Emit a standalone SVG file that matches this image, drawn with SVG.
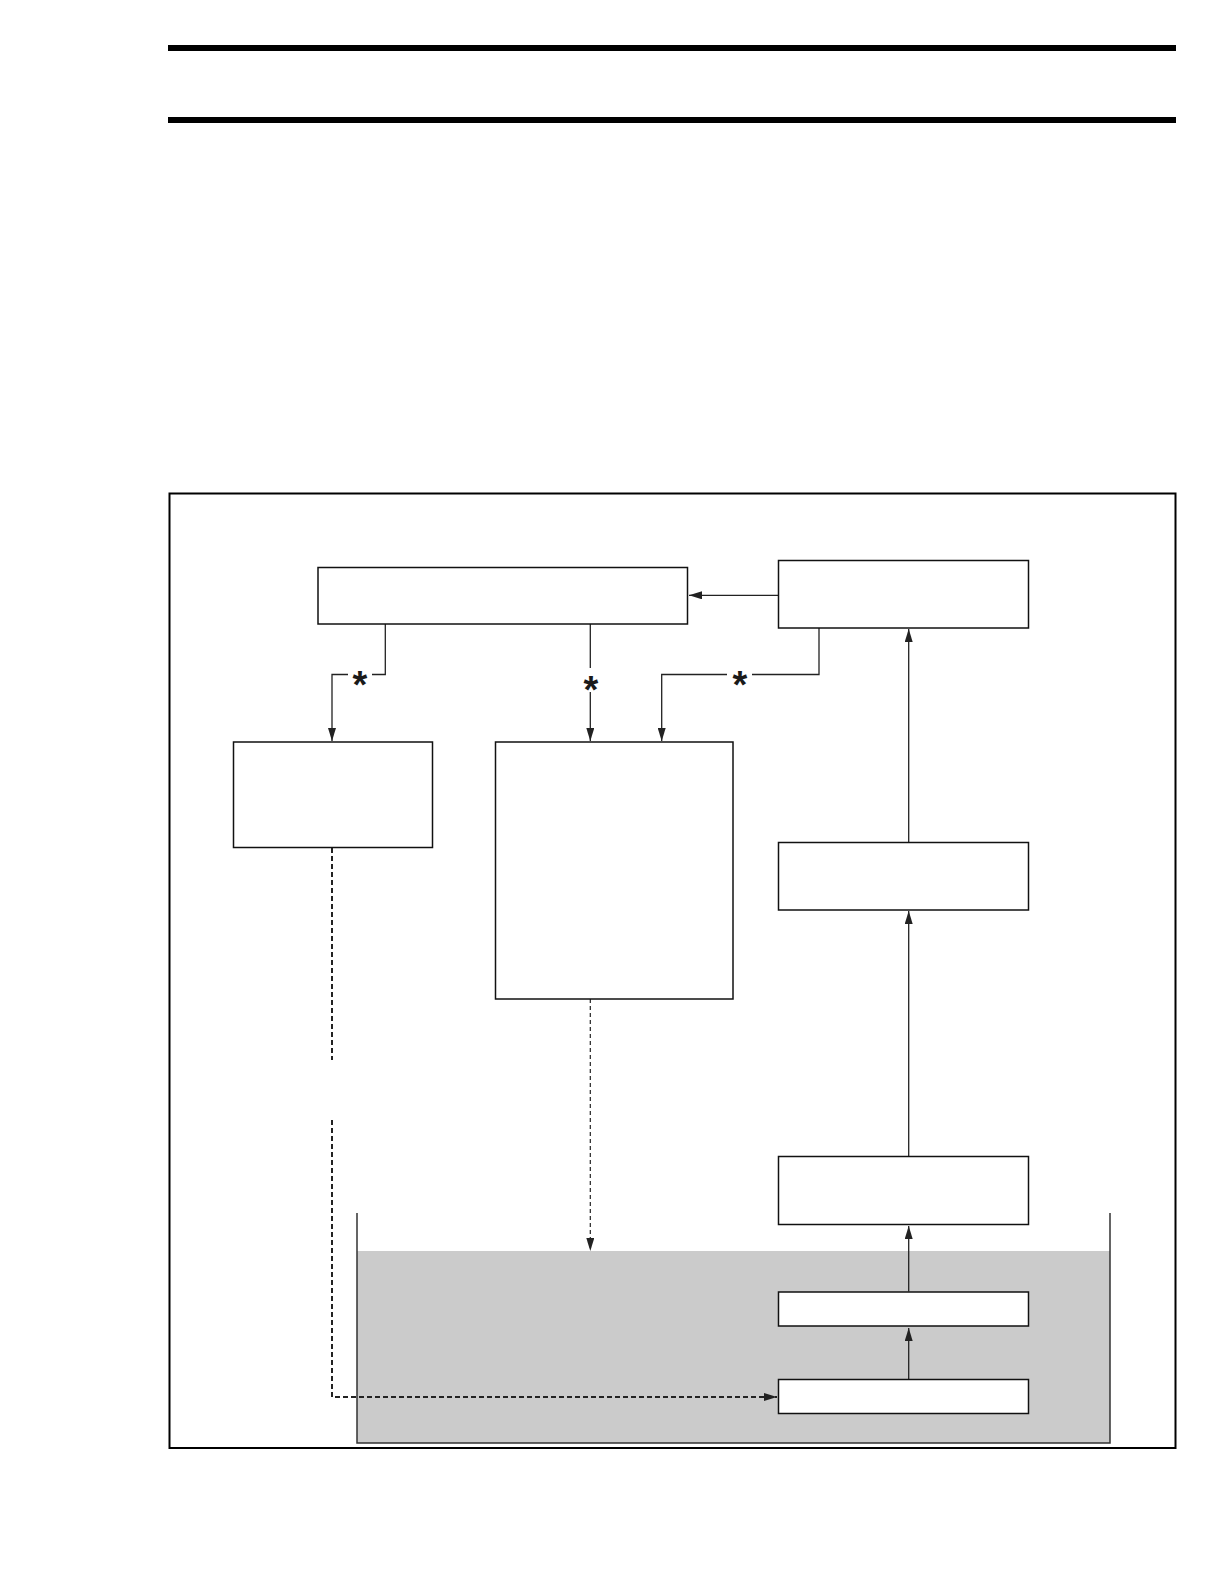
<svg xmlns="http://www.w3.org/2000/svg" width="1224" height="1584" viewBox="0 0 1224 1584">
<style>
.box{fill:#fff;stroke:#111;stroke-width:1.5}
.conn{fill:none;stroke:#222;stroke-width:1.3}
.dash1{fill:none;stroke:#222;stroke-width:2;stroke-dasharray:5 3}
.dash2{fill:none;stroke:#222;stroke-width:1.2;stroke-dasharray:4 3}
.ast{font-family:"Liberation Sans",Arial,sans-serif;font-weight:bold;font-size:38px;fill:#1a1a1a;text-anchor:middle}
</style>
<defs>
<marker id="ah" markerUnits="userSpaceOnUse" viewBox="0 0 13 8" refX="13" refY="4" markerWidth="13" markerHeight="8" orient="auto">
<path d="M0,0 L13,4 L0,8 z" fill="#222"/>
</marker>
</defs>
<g id="header">
<rect x="168" y="45" width="1008" height="6" fill="#000"/>
<rect x="168" y="117" width="1008" height="6" fill="#000"/>
</g>
<rect id="frame" x="169.5" y="493.5" width="1006" height="954.5" fill="none" stroke="#000" stroke-width="2"/>
<g id="tank">
<rect x="357" y="1251" width="753" height="192" fill="#cbcbcb"/>
<path d="M357,1213 V1443 H1110 V1213" fill="none" stroke="#333" stroke-width="1.5"/>
</g>
<g id="connectors">
<path class="conn" d="M778.5,595.3 H689" marker-end="url(#ah)"/>
<path class="conn" d="M385.3,624 V674.5 H372"/>
<path class="conn" d="M348,674.5 H332 V741" stroke-width="1.6" marker-end="url(#ah)"/>
<path class="conn" d="M590.3,624 V668"/>
<path class="conn" d="M590.3,692 V741" marker-end="url(#ah)"/>
<path class="conn" d="M819,628 V674.5 H752"/>
<path class="conn" d="M727,674.5 H661.7 V741" stroke-width="1.6" marker-end="url(#ah)"/>
<path class="conn" d="M908.7,842 V629" marker-end="url(#ah)"/>
<path class="conn" d="M908.7,1156 V911" marker-end="url(#ah)"/>
<path class="conn" d="M908.7,1291.5 V1226" marker-end="url(#ah)"/>
<path class="conn" d="M908.7,1379 V1328" stroke-width="2" marker-end="url(#ah)"/>
<path class="dash1" d="M332,848 V1060"/>
<path class="dash1" d="M332,1120 V1397 H777" marker-end="url(#ah)"/>
<path class="dash2" d="M590.3,999 V1251" marker-end="url(#ah)"/>
<text class="ast" x="359.8" y="697.5">*</text>
<text class="ast" x="590.8" y="703">*</text>
<text class="ast" x="740" y="697.5">*</text>
</g>
<g id="n1"><rect class="box" x="318" y="567.5" width="369.5" height="56.5" stroke-width="2.2" stroke="#000"/></g>
<g id="n2"><rect class="box" x="778.5" y="560.5" width="250" height="67.5" stroke="#000"/></g>
<g id="n3"><rect class="box" x="233.5" y="742" width="199" height="105.5" stroke="#333" stroke-width="1.4"/></g>
<g id="n4"><rect class="box" x="495.5" y="742" width="237.5" height="257" stroke="#333" stroke-width="1.4"/></g>
<g id="n5"><rect class="box" x="778.5" y="842.5" width="250" height="67.5" stroke="#000"/></g>
<g id="n6"><rect class="box" x="778.5" y="1156.5" width="250" height="68" stroke="#000"/></g>
<g id="n7"><rect class="box" x="778.5" y="1292" width="250" height="34" stroke="#000" stroke-width="2"/></g>
<g id="n8"><rect class="box" x="778.5" y="1379.5" width="250" height="34" stroke="#000"/></g>
</svg>
